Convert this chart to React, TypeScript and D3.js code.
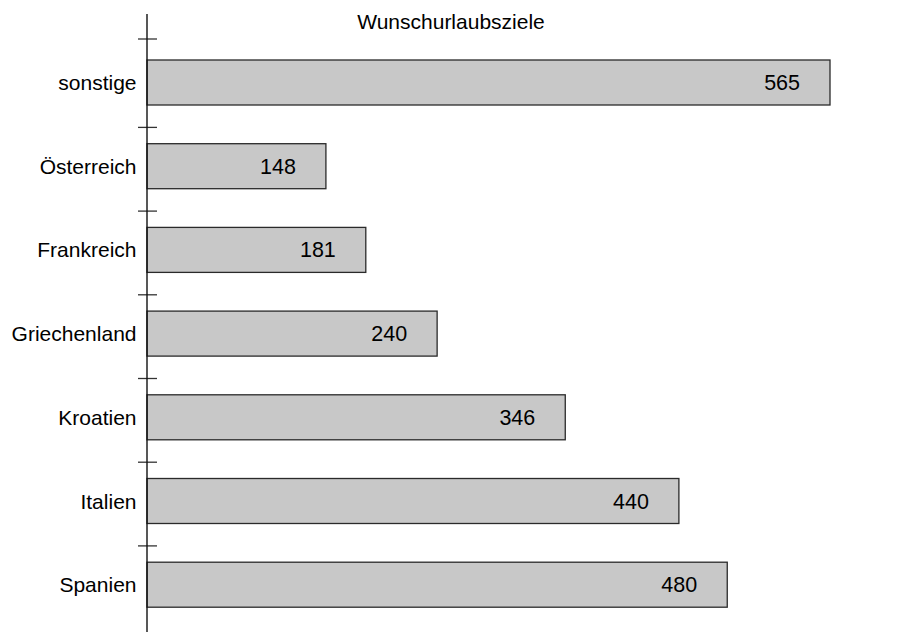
import React from "react";
import * as d3 from "d3";

const categories = ["sonstige", "Österreich", "Frankreich", "Griechenland", "Kroatien", "Italien", "Spanien"];
const values = [565, 148, 181, 240, 346, 440, 480];
const title = "Wunschurlaubsziele";

const W = 899;
const H = 632;
const FONT = "'Liberation Sans', Arial, Helvetica, sans-serif";

export default function App() {
  const x0 = 147;
  const x = d3.scaleLinear().domain([0, 565]).range([x0, 830]);
  const step = 83.7;
  const pIn = 1 - 45 / step;
  const pOut = 0.5;
  const start = 60 - step * pOut;
  const y = d3
    .scaleBand<string>()
    .domain(categories)
    .range([start, start + step * (categories.length - pIn + 2 * pOut)])
    .paddingInner(pIn)
    .paddingOuter(pOut);
  const bw = y.bandwidth();
  const tickYs = categories.map((c, i) => (i === 0 ? (y(c) as number) - 21 : (y(c) as number) - 16.3));

  return (
    <svg
      width={W}
      height={H}
      style={{ position: "absolute", left: 0, top: 0, background: "#fff" }}
      fontFamily={FONT}
    >
      <text x={451} y={28.5} textAnchor="middle" fontSize={21} fill="#000">
        {title}
      </text>
      {categories.map((c, i) => {
        const yy = y(c) as number;
        return (
          <g key={c}>
            <rect
              x={x(0)}
              y={yy}
              width={x(values[i]) - x(0)}
              height={bw}
              fill="#c8c8c8"
              stroke="#2a2a2a"
              strokeWidth={1.3}
            />
            <text x={x(values[i]) - 30} y={yy + bw / 2 + 7.5} textAnchor="end" fontSize={21.5} fill="#000">
              {values[i]}
            </text>
            <text x={136.5} y={yy + bw / 2 + 7.5} textAnchor="end" fontSize={21} fill="#000">
              {c}
            </text>
          </g>
        );
      })}
      {tickYs.map((t, i) => (
        <line key={i} x1={138} x2={157} y1={t} y2={t} stroke="#333" strokeWidth={1.3} />
      ))}
      <line x1={x0} x2={x0} y1={14} y2={H} stroke="#111" strokeWidth={1.4} />
    </svg>
  );
}
